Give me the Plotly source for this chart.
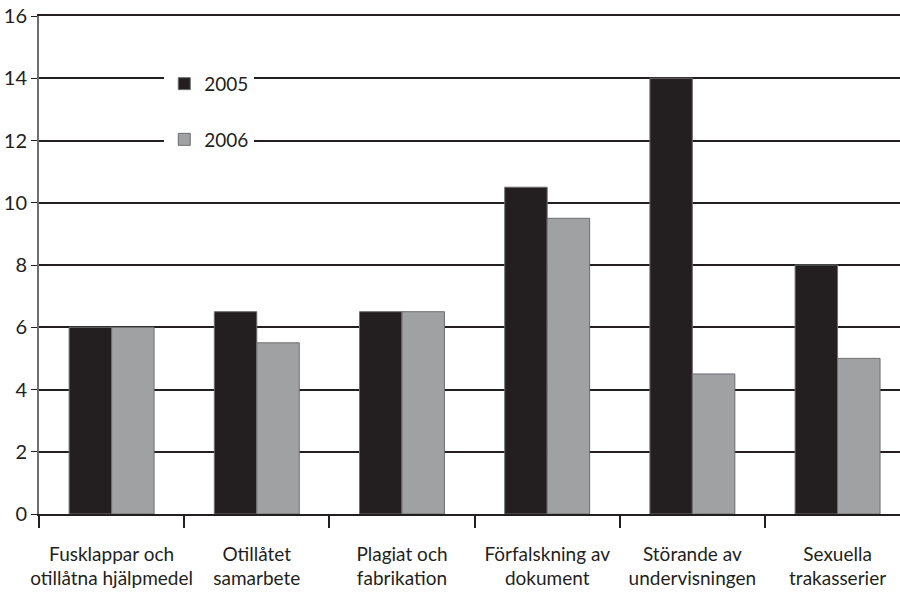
"""Grouped bar chart: disciplinary cases 2005 vs 2006."""

import plotly.graph_objects as go

categories = [
    "Fusklappar och<br>otillåtna hjälpmedel",
    "Otillåtet<br>samarbete",
    "Plagiat och<br>fabrikation",
    "Förfalskning av<br>dokument",
    "Störande av<br>undervisningen",
    "Sexuella<br>trakasserier",
]
values_2005 = [6, 6.5, 6.5, 10.5, 14, 8]
values_2006 = [6, 5.5, 6.5, 9.5, 4.5, 5]
y_ticks = [0, 2, 4, 6, 8, 10, 12, 14, 16]

COLORS = {
    "2005": "#231f20",
    "2006": "#a0a1a3",
    "outline": "#6d6e70",
    "grid": "#231f20",
    "axis": "#6d6e70",
    "text": "#231f20",
}
FONT = "Lato, 'Open Sans', sans-serif"

fig = go.Figure()
fig.add_trace(
    go.Bar(
        x=categories,
        y=values_2005,
        name="2005",
        legendgroup="a",
        marker={"color": COLORS["2005"], "line": {"color": COLORS["outline"], "width": 1}},
    )
)
fig.add_trace(
    go.Bar(
        x=categories,
        y=values_2006,
        name="2006",
        legendgroup="b",
        marker={"color": COLORS["2006"], "line": {"color": COLORS["outline"], "width": 1}},
    )
)

fig.update_layout(
    width=900,
    height=595,
    template="plotly_white",
    paper_bgcolor="white",
    plot_bgcolor="white",
    font={"family": FONT, "color": COLORS["text"], "size": 19},
    margin={"l": 39, "r": 0, "t": 16, "b": 81},
    barmode="group",
    bargap=0.415,
    bargroupgap=0,
    showlegend=True,
    legend={
        "x": 0.1455,
        "y": 0.902,
        "xanchor": "left",
        "yanchor": "top",
        "bgcolor": "white",
        "borderwidth": 0,
        "traceorder": "grouped",
        "tracegroupgap": 28,
        "font": {"size": 19, "color": COLORS["text"]},
    },
    xaxis={
        "range": [-0.5, 5.43],
        "automargin": False,
        "showgrid": False,
        "showline": True,
        "mirror": True,  # top border doubles as the "16" gridline
        "linecolor": COLORS["grid"],
        "linewidth": 1.5,
        "ticks": "outside",
        "tickson": "boundaries",
        "ticklen": 12,
        "tickcolor": COLORS["grid"],
        "tickwidth": 1.5,
        "tickangle": 0,
        "ticklabelstandoff": 22,
        "tickfont": {"size": 19},
    },
    yaxis={
        "range": [0, 16],
        "automargin": False,
        "tickvals": y_ticks,
        "showgrid": True,
        "gridcolor": COLORS["grid"],
        "gridwidth": 1.5,
        "zeroline": False,
        "showline": True,
        "linecolor": COLORS["axis"],
        "linewidth": 2,
        "ticks": "outside",
        "ticklen": 6,
        "tickcolor": COLORS["grid"],
        "tickfont": {"size": 20},
    },
)

# drop the page's default body margin and scrollbars so the figure sits at the window origin
fig.write_html(
    "out.html",
    config={"displayModeBar": False},
    post_script=(
        "document.body.style.margin = '0';"
        "document.body.style.overflow = 'hidden';"
        "document.documentElement.style.overflow = 'hidden';"
    ),
)
